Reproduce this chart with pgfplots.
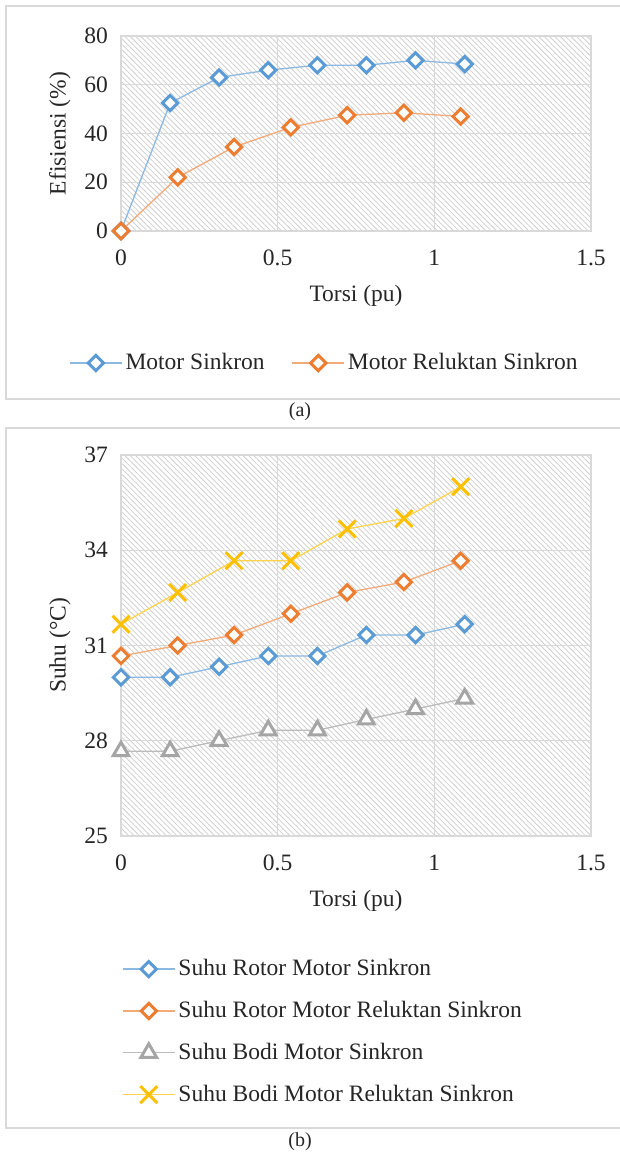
\documentclass[border=0pt]{standalone}
\usepackage{pgfplots}
\pgfplotsset{compat=1.18}
\usepackage{fontspec}
\setmainfont{Liberation Serif}
\usetikzlibrary{patterns.meta}
\definecolor{cblue}{HTML}{5B9BD5}
\definecolor{corange}{HTML}{ED7D31}
\definecolor{cgray}{HTML}{A5A5A5}
\definecolor{cgold}{HTML}{FFC000}
\definecolor{gridc}{HTML}{D9D9D9}
\definecolor{textc}{HTML}{262626}
\definecolor{hatchc}{HTML}{D0D0D0}

\pgfplotsset{
  base/.style={
    scale only axis, width=470pt, anchor=south west,
    xmin=0, xmax=1.5, xtick={0,0.5,1,1.5},
    grid=major,
    major grid style={draw=gridc, line width=1.3pt},
    axis line style={draw=gridc, line width=1.3pt},
    major tick length=0pt, tick style={draw=none},
    clip=false,
    axis background/.style={pattern={Lines[angle=-45,distance=3.8pt,line width=0.8pt]}, pattern color=hatchc},
    /pgf/number format/assume math mode=true,
    xticklabel style={anchor=center, inner sep=0pt, yshift=-27pt, text=textc},
    yticklabel style={anchor=east, inner sep=0pt, xshift=-13pt, text=textc},
    label style={text=textc},
    xlabel={Torsi (pu)},
    legend image code/.code={\draw[mark repeat=2,mark phase=2] plot coordinates {(0pt,0pt)(26pt,0pt)(52pt,0pt)};},
  },
  dblue/.style={line width=1.3pt, draw=cblue!70!white, mark=square*, mark size=5.4pt, mark options={draw=cblue, fill=white, line width=3pt, solid, rotate=45}},
  dorange/.style={line width=1.3pt, draw=corange!65!white, mark=square*, mark size=5.4pt, mark options={draw=corange, fill=white, line width=3pt, solid, rotate=45}},
  tgray/.style={line width=1.3pt, draw=cgray!75!white, mark=triangle*, mark size=9pt, mark options={draw=cgray, fill=white, line width=3pt, solid}},
  xgold/.style={line width=1.3pt, draw=cgold!70!white, mark=x, mark size=12pt, mark options={draw=cgold, line width=3pt, solid}},
}

\begin{document}
\fontsize{23.5}{28}\selectfont\color{textc}%
\begin{tikzpicture}
\useasboundingbox (0,0) rectangle (619pt,-1153pt);
\fill[white] (0,0) rectangle (619pt,-1153pt);
\draw[gridc, line width=1.3pt] (6pt,-6pt) rectangle (625pt,-399pt);
\draw[gridc, line width=1.3pt] (6pt,-428pt) rectangle (625pt,-1128pt);
\node[text=textc, font=\fontsize{20}{24}\selectfont] at (300pt,-412pt) {(a)};
\node[text=textc, font=\fontsize{20}{24}\selectfont] at (300pt,-1142pt) {(b)};

\begin{axis}[base, height=195pt, at={(121pt,-231pt)},
  ymin=0, ymax=80, ytick={0,20,40,60,80},
  ylabel={Efisiensi (\%)},
  xlabel style={at={(axis description cs:0.5,-0.333)}, anchor=center},
  ylabel style={at={(axis description cs:-0.13,0.5)}, anchor=center},
  legend columns=2,
  legend style={at={(axis description cs:0.434,-0.677)}, anchor=center, draw=none, fill=none, inner sep=0pt,
    nodes={inner sep=3pt, text=textc},
    /tikz/every even column/.append style={column sep=24pt}},
]
\addplot[dblue] coordinates {(0,0) (0.157,52.5) (0.313,63) (0.47,66) (0.627,68) (0.783,68) (0.94,70) (1.097,68.5)};
\addlegendentry{Motor Sinkron}
\addplot[dorange] coordinates {(0,0) (0.181,22) (0.361,34.5) (0.542,42.5) (0.722,47.5) (0.903,48.5) (1.084,47)};
\addlegendentry{Motor Reluktan Sinkron}
\end{axis}

\begin{axis}[base, height=381pt, at={(121pt,-836pt)},
  ymin=25, ymax=37, ytick={25,28,31,34,37},
  ylabel={Suhu (°C)},
  xlabel style={at={(axis description cs:0.5,-0.171)}, anchor=center},
  ylabel style={at={(axis description cs:-0.13,0.5)}, anchor=center},
  legend cell align=left,
  legend style={at={(axis description cs:0.002,-0.315)}, anchor=north west, draw=none, fill=none, inner sep=0pt,
    nodes={inner sep=3pt, text=textc}, row sep=16pt},
]
\addplot[dblue] coordinates {(0,30) (0.157,30) (0.313,30.33) (0.47,30.67) (0.627,30.67) (0.783,31.33) (0.94,31.33) (1.097,31.67)};
\addlegendentry{Suhu Rotor Motor Sinkron}
\addplot[dorange] coordinates {(0,30.67) (0.181,31) (0.361,31.33) (0.542,32) (0.722,32.67) (0.903,33) (1.084,33.67)};
\addlegendentry{Suhu Rotor Motor Reluktan Sinkron}
\addplot[tgray] coordinates {(0,27.67) (0.157,27.67) (0.313,28) (0.47,28.33) (0.627,28.33) (0.783,28.67) (0.94,29) (1.097,29.33)};
\addlegendentry{Suhu Bodi Motor Sinkron}
\addplot[xgold] coordinates {(0,31.67) (0.181,32.67) (0.361,33.67) (0.542,33.67) (0.722,34.67) (0.903,35) (1.084,36)};
\addlegendentry{Suhu Bodi Motor Reluktan Sinkron}
\end{axis}
\end{tikzpicture}
\end{document}
